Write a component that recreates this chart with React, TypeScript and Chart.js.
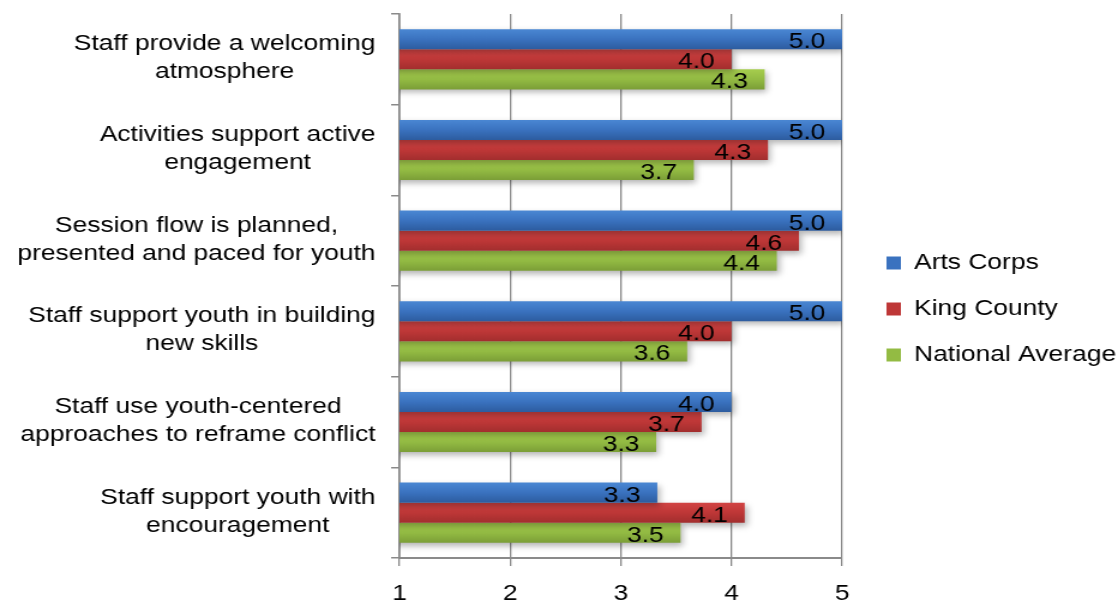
import React, { useEffect, useRef } from "react";
import { Chart, registerables } from "chart.js";

Chart.register(...registerables);

const categories: string[][] = [
  ["Staff provide a welcoming", "atmosphere"],
  ["Activities support active", "engagement"],
  ["Session flow is planned,", "presented and paced for youth"],
  ["Staff support youth in building", "new skills"],
  ["Staff use youth-centered", "approaches to reframe conflict"],
  ["Staff support youth with", "encouragement"],
];

const artsCorps = [5.0, 5.0, 5.0, 5.0, 4.0, 3.33];
const kingCounty = [4.0, 4.33, 4.61, 4.0, 3.73, 4.12];
const nationalAverage = [4.3, 3.66, 4.41, 3.6, 3.32, 3.54];

const seriesNames = ["Arts Corps", "King County", "National Average"];
const xTicks = [1, 2, 3, 4, 5];

const FONT = "'Liberation Sans', Arial, Helvetica, sans-serif";
const GRID = "#8a8a8a";

// The reference is horizontally stretched; draw at a narrower internal width and stretch via CSS.
const DISPLAY_W = 1118;
const DISPLAY_H = 604;
const STRETCH = 1.2;
const INTERNAL_W = Math.round(DISPLAY_W / STRETCH);

const gradStops: [string, string, string][] = [
  ["#4a87d3", "#3a72bf", "#2d5c9f"],
  ["#d24444", "#be3737", "#a22e2e"],
  ["#a6cd4e", "#93bb43", "#7b9e37"],
];

const gradientPlugin = {
  id: "barGradient",
  beforeDatasetsDraw(chart: any) {
    const ctx = chart.ctx;
    chart.data.datasets.forEach((_ds: any, di: number) => {
      const meta = chart.getDatasetMeta(di);
      meta.data.forEach((el: any) => {
        const h = el.height;
        const g = ctx.createLinearGradient(0, el.y - h / 2, 0, el.y + h / 2);
        const s = gradStops[di];
        g.addColorStop(0, s[0]);
        g.addColorStop(0.5, s[1]);
        g.addColorStop(1, s[2]);
        el.options = { ...el.options, backgroundColor: g };
      });
    });
    ctx.save();
    ctx.shadowColor = "rgba(0,0,0,0.3)";
    ctx.shadowBlur = 6;
    ctx.shadowOffsetX = 2;
    ctx.shadowOffsetY = 3;
  },
  afterDatasetsDraw(chart: any) {
    const ctx = chart.ctx;
    ctx.restore();
    ctx.save();
    ctx.font = `22px ${FONT}`;
    ctx.fillStyle = "#000";
    ctx.textAlign = "right";
    ctx.textBaseline = "middle";
    chart.data.datasets.forEach((ds: any, di: number) => {
      const meta = chart.getDatasetMeta(di);
      meta.data.forEach((el: any, i: number) => {
        const v = ds.data[i] as number;
        ctx.fillText(v.toFixed(1), el.x - 14, el.y + 3);
      });
    });
    ctx.restore();
  },
};

const yLabelPlugin = {
  id: "yLabels",
  afterDraw(chart: any) {
    const ctx = chart.ctx;
    const scale = chart.scales.y;
    ctx.save();
    ctx.font = `22px ${FONT}`;
    ctx.fillStyle = "#000";
    ctx.textAlign = "center";
    ctx.textBaseline = "middle";
    const right = scale.right - 20;
    const lh = 28;
    categories.forEach((lines, i) => {
      const y = scale.getPixelForTick(i);
      const w = Math.max(...lines.map((l) => ctx.measureText(l).width));
      const cx = right - w / 2;
      lines.forEach((l, j) => {
        ctx.fillText(l, cx, y + (j - (lines.length - 1) / 2) * lh - 1);
      });
    });
    ctx.restore();
  },
};

export default function App() {
  const ref = useRef<HTMLCanvasElement>(null);
  useEffect(() => {
    document.body.style.margin = "0";
    const chart = new Chart(ref.current!, {
      type: "bar",
      data: {
        labels: categories.map((c) => c.join(" ")),
        datasets: [
          { label: seriesNames[0], data: artsCorps, backgroundColor: "#3a72bf" },
          { label: seriesNames[1], data: kingCounty, backgroundColor: "#be3737" },
          { label: seriesNames[2], data: nationalAverage, backgroundColor: "#93bb43" },
        ],
      },
      options: {
        indexAxis: "y",
        animation: false,
        responsive: false,
        maintainAspectRatio: false,
        layout: { padding: { top: 14, right: 0, bottom: 0, left: 0 } },
        datasets: { bar: { categoryPercentage: 0.663, barPercentage: 1.0 } },
        scales: {
          x: {
            type: "linear",
            min: 1,
            max: 5,
            afterBuildTicks: (s: any) => {
              s.ticks = xTicks.map((v) => ({ value: v }));
            },
            afterFit: (s: any) => {
              s.height = 46;
            },
            ticks: { font: { size: 22, family: FONT }, color: "#000", padding: 15 },
            grid: { color: GRID, lineWidth: 1.3, tickLength: 8 },
            border: { color: GRID, width: 2 },
          },
          y: {
            type: "category",
            afterFit: (s: any) => {
              s.width = 333;
            },
            ticks: { display: false },
            grid: { drawOnChartArea: false, color: GRID, lineWidth: 1.5, tickLength: 7, offset: true },
            border: { color: GRID, width: 1.7 },
          },
          spacer: {
            type: "linear",
            position: "right",
            weight: 0,
            display: true,
            afterFit: (s: any) => {
              s.width = 13;
            },
            ticks: { display: false },
            grid: { display: false, drawTicks: false },
            border: { display: false },
          },
        },
        plugins: {
          legend: {
            position: "right",
            maxWidth: 217,
            labels: {
              font: { size: 22, family: FONT },
              color: "#000",
              boxWidth: 12,
              boxHeight: 13,
              padding: 24,
            },
          },
          tooltip: { enabled: false },
        },
      },
      plugins: [gradientPlugin, yLabelPlugin],
    });
    return () => chart.destroy();
  }, []);
  return (
    <canvas
      ref={ref}
      width={INTERNAL_W}
      height={DISPLAY_H}
      style={{ display: "block", width: `${DISPLAY_W}px`, height: `${DISPLAY_H}px` }}
    />
  );
}
